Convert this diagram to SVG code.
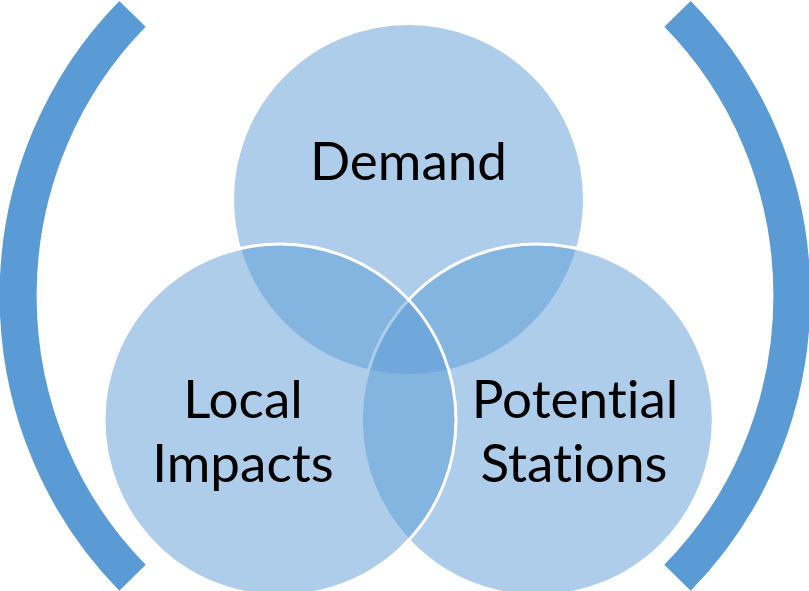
<svg xmlns="http://www.w3.org/2000/svg" width="809" height="591" viewBox="0 0 809 591">
  <style>
    .bg { fill: #FFFFFF; }
    .paren { fill: none; stroke: #5B9BD5; stroke-width: 37; stroke-linecap: butt; }
    .venn { fill: #5B9BD5; fill-opacity: 0.5; stroke: #FFFFFF; stroke-width: 3; }
    .label { font-family: Lato, "Open Sans", "Liberation Sans", sans-serif; font-size: 53px; fill: #000000; text-anchor: middle; font-variant-ligatures: none; font-feature-settings: "liga" 0, "clig" 0; }
  </style>
  <rect class="bg" x="0" y="0" width="809" height="591"/>
  <g id="bracket-left">
    <path class="paren" d="M 132.5 13.85 A 386.5 397 0 0 0 132.5 577.75"/>
  </g>
  <g id="bracket-right">
    <path class="paren" d="M 677.5 13.85 A 386.5 397 0 0 1 677.5 577.75"/>
  </g>
  <g id="node-demand">
    <circle class="venn" cx="408.5" cy="199.5" r="176"/>
    <text class="label" x="408.5" y="180">Demand</text>
  </g>
  <g id="node-potential-stations">
    <circle class="venn" cx="537.3" cy="420" r="176"/>
    <text class="label" x="575" y="417.5">Potential</text>
    <text class="label" x="574" y="481.5">Stations</text>
  </g>
  <g id="node-local-impacts">
    <circle class="venn" cx="280" cy="420" r="176"/>
    <text class="label" x="243" y="417.5">Local</text>
    <text class="label" x="243" y="481.5">Impacts</text>
  </g>
  <g id="connectors"></g>
</svg>
